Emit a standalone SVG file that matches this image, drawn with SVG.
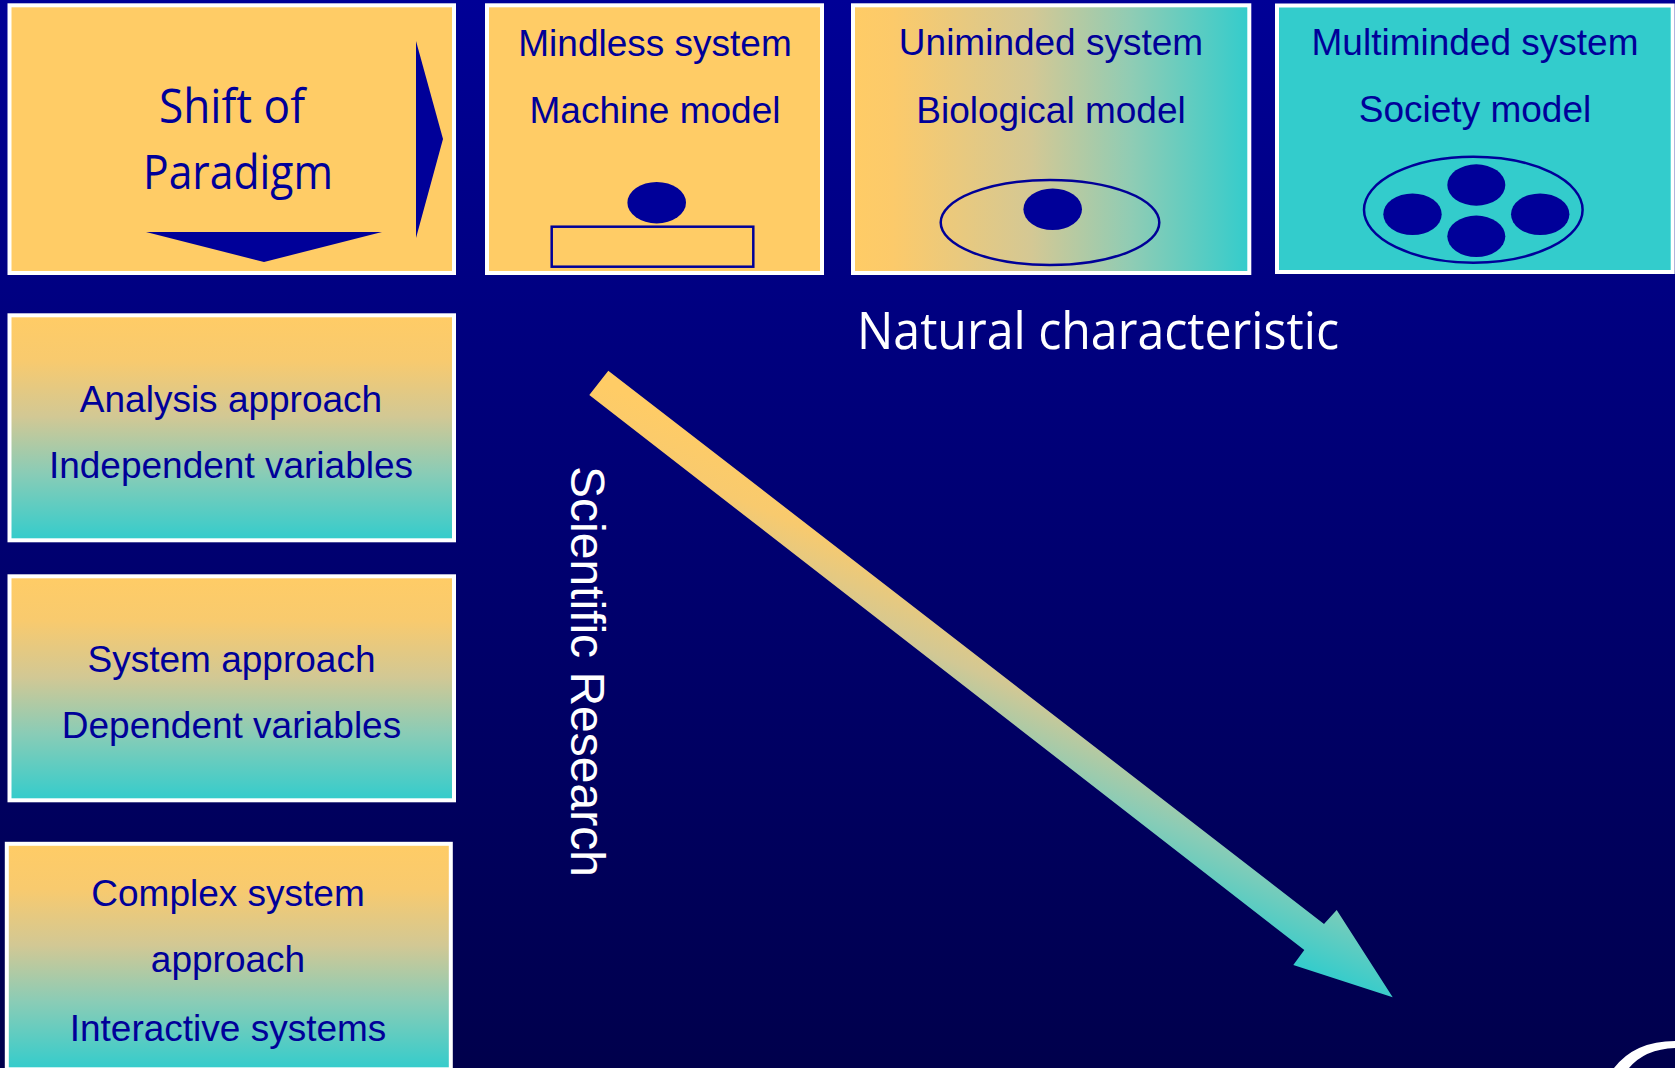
<svg xmlns="http://www.w3.org/2000/svg" width="1675" height="1068" viewBox="0 0 1675 1068">
<defs>
<linearGradient id="bg" x1="0" y1="0" x2="0" y2="1">
<stop offset="0" stop-color="#000096"/>
<stop offset="1" stop-color="#00004C"/>
</linearGradient>
<linearGradient id="vgrad" x1="0" y1="0" x2="0" y2="1">
<stop offset="0" stop-color="#FFCC66"/>
<stop offset="0.2" stop-color="#F8CA6E"/>
<stop offset="0.45" stop-color="#D2C894"/>
<stop offset="0.7" stop-color="#8ACCB6"/>
<stop offset="1" stop-color="#33CCCC"/>
</linearGradient>
<linearGradient id="hgrad" x1="0" y1="0" x2="1" y2="0">
<stop offset="0" stop-color="#FFCC66"/>
<stop offset="0.1" stop-color="#FCCA6A"/>
<stop offset="0.45" stop-color="#D4C894"/>
<stop offset="0.7" stop-color="#90CCB4"/>
<stop offset="1" stop-color="#33CCCC"/>
</linearGradient>
<linearGradient id="agrad" gradientUnits="userSpaceOnUse" x1="600" y1="383" x2="496" y2="633">
<stop offset="0" stop-color="#FFCC66"/>
<stop offset="0.2" stop-color="#F8CA6E"/>
<stop offset="0.45" stop-color="#D2C894"/>
<stop offset="0.7" stop-color="#8ACCB6"/>
<stop offset="1" stop-color="#33CCCC"/>
</linearGradient>
<style>
.box{stroke:#FFFFFF;stroke-width:4}
.t{font-family:"Liberation Sans",Arial,sans-serif;font-size:37px;fill:#000099;text-anchor:middle}
.seg{font-family:"Open Sans","Noto Sans",sans-serif;fill:#000099;text-anchor:middle}
.mark{fill:#000099}
.outline{fill:none;stroke:#000099;stroke-width:2.5}
</style>
</defs>
<rect x="0" y="0" width="1675" height="1068" fill="url(#bg)"/>

<g id="node-shift">
<rect class="box" x="9.5" y="5.3" width="444.5" height="267.7" fill="#FFCC66"/>
<text class="seg" x="232" y="123" font-size="47" textLength="146" lengthAdjust="spacingAndGlyphs">Shift of</text>
<text class="seg" x="238" y="189" font-size="47" textLength="190" lengthAdjust="spacingAndGlyphs">Paradigm</text>
<polygon class="mark" points="416,41 443,139 416,238"/>
<polygon class="mark" points="146,232 382,232 264,262"/>
</g>

<g id="node-mindless">
<rect class="box" x="487" y="5.3" width="335" height="267.7" fill="#FFCC66"/>
<text class="t" x="655" y="55.7">Mindless system</text>
<text class="t" x="655" y="122.7">Machine model</text>
<ellipse class="mark" cx="656.7" cy="202.7" rx="29.3" ry="20.7"/>
<rect class="outline" x="551.7" y="226.7" width="201.6" height="40"/>
</g>

<g id="node-uniminded">
<rect class="box" x="853" y="5.3" width="396.3" height="267.7" fill="url(#hgrad)"/>
<text class="t" x="1051" y="55">Uniminded system</text>
<text class="t" x="1051" y="122.7">Biological model</text>
<ellipse class="outline" cx="1050" cy="222.5" rx="109.3" ry="42.5"/>
<ellipse class="mark" cx="1052.7" cy="209.2" rx="29.3" ry="20.8"/>
</g>

<g id="node-multiminded">
<rect class="box" x="1277" y="5.5" width="395.7" height="266.5" fill="#33CCCC"/>
<text class="t" x="1475" y="55">Multiminded system</text>
<text class="t" x="1475" y="121.7">Society model</text>
<ellipse class="outline" cx="1473.3" cy="209.7" rx="109.3" ry="53"/>
<ellipse class="mark" cx="1476.3" cy="185" rx="29" ry="20.7"/>
<ellipse class="mark" cx="1412.5" cy="214.2" rx="29.2" ry="20.8"/>
<ellipse class="mark" cx="1540.2" cy="214.2" rx="29.2" ry="20.8"/>
<ellipse class="mark" cx="1476.3" cy="236.3" rx="29" ry="20.7"/>
</g>

<g id="node-analysis">
<rect class="box" x="9.5" y="315.3" width="444.5" height="225" fill="url(#vgrad)"/>
<text class="t" x="231" y="411.7">Analysis approach</text>
<text class="t" x="231" y="478.3">Independent variables</text>
</g>

<g id="node-system">
<rect class="box" x="9.5" y="576.3" width="444.5" height="224" fill="url(#vgrad)"/>
<text class="t" x="231.5" y="671.7">System approach</text>
<text class="t" x="231.5" y="738.3">Dependent variables</text>
</g>

<g id="node-complex">
<rect class="box" x="6.8" y="843.8" width="444" height="225.5" fill="url(#vgrad)"/>
<text class="t" x="228" y="906">Complex system</text>
<text class="t" x="228" y="971.7">approach</text>
<text class="t" x="228" y="1040.7">Interactive systems</text>
</g>

<g id="label-natural">
<text x="857" y="349.3" font-family="Open Sans, Noto Sans, sans-serif" font-size="51" fill="#FFFFFF" textLength="482" lengthAdjust="spacingAndGlyphs">Natural characteristic</text>
</g>

<g id="label-scientific">
<text transform="translate(571,466) rotate(90)" x="0" y="0" font-family="Liberation Sans, Arial, sans-serif" font-size="48" fill="#FFFFFF">Scientific Research</text>
</g>

<g id="connectors">
<polygon points="608.3,370.7 1324,924 1336.7,910 1392.7,997.3 1293.3,965 1304.3,950 589.3,395" fill="url(#agrad)"/>
</g>

<g id="logo-fragment">
<path d="M1614,1068 Q1635,1041 1675,1041 L1675,1048 Q1645,1049 1629,1068 Z" fill="#FFFFFF"/>
</g>
</svg>
